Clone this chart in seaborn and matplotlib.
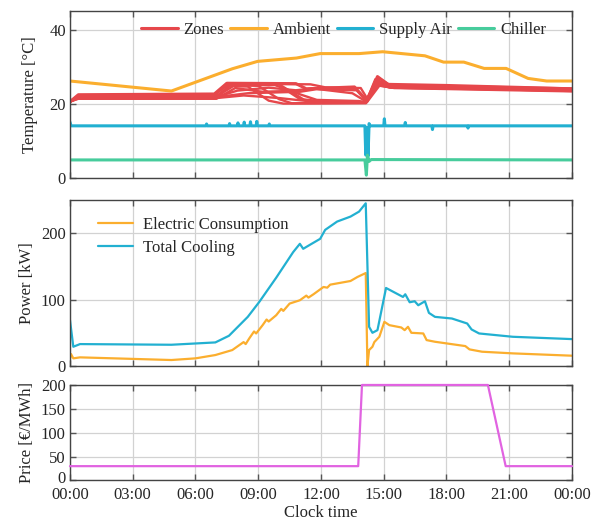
import numpy as np
import pandas as pd
import matplotlib
matplotlib.use("Agg")
import matplotlib.pyplot as plt
import matplotlib.transforms as mtransforms
import seaborn as sns

# ---- data (hours of day) ----
ambient_h = [0, 4.85, 7.76, 8.97, 10.83, 11.96, 13.82, 14.95, 16.97, 17.86, 18.83, 19.8, 20.85, 21.9, 22.79, 24]
ambient_t = [26.1, 23.4, 29.4, 31.4, 32.3, 33.5, 33.5, 34.0, 32.9, 31.2, 31.2, 29.5, 29.5, 26.8, 26.1, 26.1]

zones = {
    "Z1": ([0, 0.4, 6.9, 7.5, 10.8, 11.3, 13.6, 14.2, 14.7, 15.2, 18, 24],
           [20.5, 22.4, 22.6, 25.5, 25.4, 24.0, 24.5, 20.8, 27.3, 25.2, 24.9, 24.0]),
    "Z2": ([0, 0.4, 6.9, 7.6, 10.0, 11.2, 12.0, 14.15, 14.6, 15.3, 24],
           [20.6, 22.2, 22.3, 25.3, 25.2, 21.0, 20.3, 20.4, 26.6, 24.7, 23.8]),
    "Z3": ([0, 0.4, 7.0, 7.7, 9.0, 10.0, 10.6, 14.15, 14.7, 15.4, 24],
           [20.5, 22.0, 22.0, 25.0, 24.8, 21.2, 20.1, 20.2, 25.8, 24.4, 23.6]),
    "Z4": ([0, 0.4, 7.0, 7.8, 8.5, 9.5, 10.2, 14.15, 14.6, 15.3, 24],
           [20.6, 21.8, 21.9, 24.7, 24.6, 20.8, 20.0, 20.1, 25.3, 24.6, 23.7]),
    "Z5": ([0, 0.4, 7.0, 8.0, 9.5, 10.8, 11.6, 13.5, 14.15, 14.7, 15.2, 24],
           [20.5, 21.7, 21.8, 23.5, 24.3, 23.6, 24.1, 22.8, 20.6, 26.0, 24.8, 23.9]),
    "Z6": ([0, 0.4, 6.9, 8.5, 11.0, 11.8, 13.7, 14.2, 14.6, 15.4, 24],
           [20.5, 21.6, 21.7, 22.8, 23.2, 23.9, 23.6, 20.5, 25.0, 24.3, 23.5]),
    "Z7": ([0, 0.4, 7.0, 7.6, 9.8, 11.0, 11.8, 13.8, 14.2, 14.8, 15.5, 24],
           [20.6, 21.5, 21.5, 24.9, 25.0, 22.5, 21.0, 20.7, 20.4, 24.9, 24.5, 23.4]),
    "Z8": ([0, 0.4, 7.0, 8.3, 10.0, 11.5, 14.1, 14.6, 15.3, 24],
           [20.5, 21.4, 21.5, 22.2, 21.5, 20.6, 20.3, 25.6, 24.3, 23.6]),
    "Z9": ([0, 0.4, 7.0, 7.9, 9.2, 10.4, 11.0, 12.5, 14.15, 14.7, 15.5, 24],
           [20.6, 21.3, 21.3, 24.2, 23.2, 23.4, 21.2, 20.4, 20.3, 25.0, 24.2, 23.3]),
    "Z10": ([0, 0.4, 6.9, 7.5, 11.5, 12.2, 13.9, 14.25, 14.8, 15.3, 24],
            [20.5, 21.9, 22.1, 25.4, 25.2, 24.4, 24.2, 21.0, 26.8, 25.0, 24.1]),
}

supply_h = [0, 0.05, 6.5, 6.53, 6.56, 7.6, 7.63, 7.66, 8.0, 8.03, 8.06, 8.3, 8.33, 8.36, 8.6, 8.63, 8.66,
            8.9, 8.93, 8.96, 9.5, 9.53, 9.56, 14.1, 14.14, 14.2, 14.25, 14.3,
            14.35, 15.0, 15.03, 15.06, 16.0, 16.03, 16.06, 17.3, 17.33, 17.36, 19.0, 19.03, 19.06, 24]
supply_t = [15.0, 14.0, 14.0, 14.5, 14.0, 14.0, 14.6, 14.0, 14.0, 14.8, 14.0, 14.0, 15.0, 14.0, 14.0, 15.1, 14.0,
            14.0, 15.2, 14.0, 14.0, 14.5, 14.0, 14.0, 6.1, 13.5, 5.8, 14.6,
            14.0, 14.0, 15.9, 14.0, 14.0, 14.9, 14.0, 14.0, 13.0, 14.0, 14.0, 13.4, 14.0, 14.0]

chiller_h = [0, 14.1, 14.17, 14.22, 14.3, 14.4, 24]
chiller_t = [4.8, 4.8, 0.7, 6.1, 4.4, 4.9, 4.8]

cooling_h = [0, 0.16, 0.48, 4.85, 6.95, 7.6, 8.5, 9.05, 9.86, 10.67, 10.99, 11.15, 11.47, 11.96, 12.2,
             12.77, 13.41, 13.82, 14.14, 14.3, 14.46, 14.7, 15.11, 15.68, 15.92, 16.03, 16.24, 16.48,
             16.65, 16.97, 17.16, 17.45, 18.26, 18.99, 19.2, 19.56, 21.17, 24]
cooling_p = [69, 29, 33, 32, 35.5, 45.5, 74, 96.5, 133, 171.5, 184, 176.5, 182.5, 191.5, 205,
             217.5, 225, 232.5, 245, 59, 50, 54, 117.5, 108, 104, 108, 96, 97.5,
             91.5, 97.5, 80, 74, 71.5, 64, 55, 49, 44, 40.5]

elec_h = [0, 0.05, 0.16, 0.48, 4.85, 6.0, 6.95, 7.76, 8.3, 8.4, 8.57, 8.8, 8.9, 9.21, 9.4, 9.5, 9.86,
          10.1, 10.2, 10.5, 10.99, 11.3, 11.4, 11.64, 12.12, 12.3, 12.44, 13.41, 13.74, 14.14, 14.22,
          14.3, 14.46, 14.55, 14.79, 15.03, 15.27, 15.84, 16.0, 16.16, 16.32, 16.89, 17.05, 17.45,
          18.9, 19.1, 19.7, 21.17, 24]
elec_p = [11, 18, 11.5, 13, 9, 11.5, 16.5, 24, 36, 33, 41.5, 52, 49, 61.5, 70, 67, 76.5,
          86, 83, 94, 99, 106, 103, 108, 119, 118, 122.5, 128, 134, 140, 0,
          24, 29, 36, 44, 66.5, 61.5, 58, 54, 59, 50, 49, 39, 36.5,
          30, 25, 21.5, 19, 15.5]

price_h = [0, 13.78, 13.96, 19.98, 20.83, 24]
price_v = [30, 30, 200, 200, 30, 30]

tick_hours = [0, 3, 6, 9, 12, 15, 18, 21, 24]
tick_labels = ["00:00", "03:00", "06:00", "09:00", "12:00", "15:00", "18:00", "21:00", "00:00"]

RED = "#e6474b"
ORANGE = "#fbae2e"
BLUE = "#22b0d1"
GREEN = "#47cc9c"
MAGENTA = "#e163e1"

sns.set_theme(style="whitegrid")
plt.rcParams["font.family"] = ["Liberation Serif", "DejaVu Serif"]
FS = 12

fig = plt.figure(figsize=(5.92, 5.23), dpi=100)
left, width = 0.1182, 0.848
ax1 = fig.add_axes([left, 0.6602, width, 0.3188])
ax2 = fig.add_axes([left, 0.3002, width, 0.3174])
ax3 = fig.add_axes([left, 0.0813, width, 0.1826])

# temperatures
for i, (name, (h, t)) in enumerate(zones.items()):
    sns.lineplot(x=h, y=t, ax=ax1, color=RED, lw=1.7, label="Zones" if i == 0 else None,
                 legend=False, estimator=None, sort=False)
sns.lineplot(x=ambient_h, y=ambient_t, ax=ax1, color=ORANGE, lw=1.6, label="Ambient",
             legend=False, estimator=None, sort=False)
sns.lineplot(x=supply_h, y=supply_t, ax=ax1, color=BLUE, lw=1.5, label="Supply Air",
             legend=False, estimator=None, sort=False)
sns.lineplot(x=chiller_h, y=chiller_t, ax=ax1, color=GREEN, lw=1.5, label="Chiller",
             legend=False, estimator=None, sort=False)
ax1.set_ylim(0, 45)
ax1.set_yticks([0, 20, 40])
ax1.set_ylabel("Temperature [°C]", fontsize=FS, labelpad=8)
h1, l1 = ax1.get_legend_handles_labels()
for hh in h1:
    hh.set_linewidth(2.2)
ax1.legend(h1, l1, loc="center", bbox_to_anchor=(0.545, 0.885), ncol=4, frameon=False,
           fontsize=FS, handlelength=2.2, columnspacing=0.35, handletextpad=0.35)

# power
sns.lineplot(x=elec_h, y=elec_p, ax=ax2, color=ORANGE, lw=1.6, label="Electric Consumption",
             legend=False, estimator=None, sort=False)
sns.lineplot(x=cooling_h, y=cooling_p, ax=ax2, color=BLUE, lw=1.6, label="Total Cooling",
             legend=False, estimator=None, sort=False)
ax2.set_ylim(0, 250)
ax2.set_yticks([0, 100, 200])
ax2.set_ylabel("Power [kW]", fontsize=FS)
ax2.legend(loc="upper left", bbox_to_anchor=(0.025, 0.99), frameon=False, fontsize=FS,
           handlelength=2.1, handletextpad=0.6, labelspacing=0.45)

# price
sns.lineplot(x=price_h, y=price_v, ax=ax3, color=MAGENTA, lw=1.6, legend=False,
             estimator=None, sort=False, clip_on=False, zorder=5)
ax3.set_ylim(0, 200)
ax3.set_yticks([0, 50, 100, 150, 200])
ax3.set_ylabel("Price [€/MWh]", fontsize=FS)
ax3.set_xlabel("Clock time", fontsize=FS, labelpad=1)

for ax in (ax1, ax2, ax3):
    ax.set_xlim(0, 24)
    ax.set_xticks(tick_hours)
    ax.grid(True, color="#d2d2d2", lw=0.9)
    ax.tick_params(direction="in", length=4, width=1, color="#555555", top=True, right=True,
                   labelsize=FS, pad=3, bottom=True, left=True)
    for s in ax.spines.values():
        s.set_color("#444444")
        s.set_linewidth(1.0)
for ax in (ax1, ax2):
    ax.set_xticklabels([])
ax3.set_xticklabels(tick_labels)
ax3.tick_params(axis="x", pad=5)

# nudge the lowest price tick label up so it clears the time labels
lift = mtransforms.ScaledTranslation(0, 3 / 100, fig.dpi_scale_trans)
zero_lbl = ax3.get_yticklabels()[0]
zero_lbl.set_transform(zero_lbl.get_transform() + lift)

fig.savefig("out.png", dpi=100)
